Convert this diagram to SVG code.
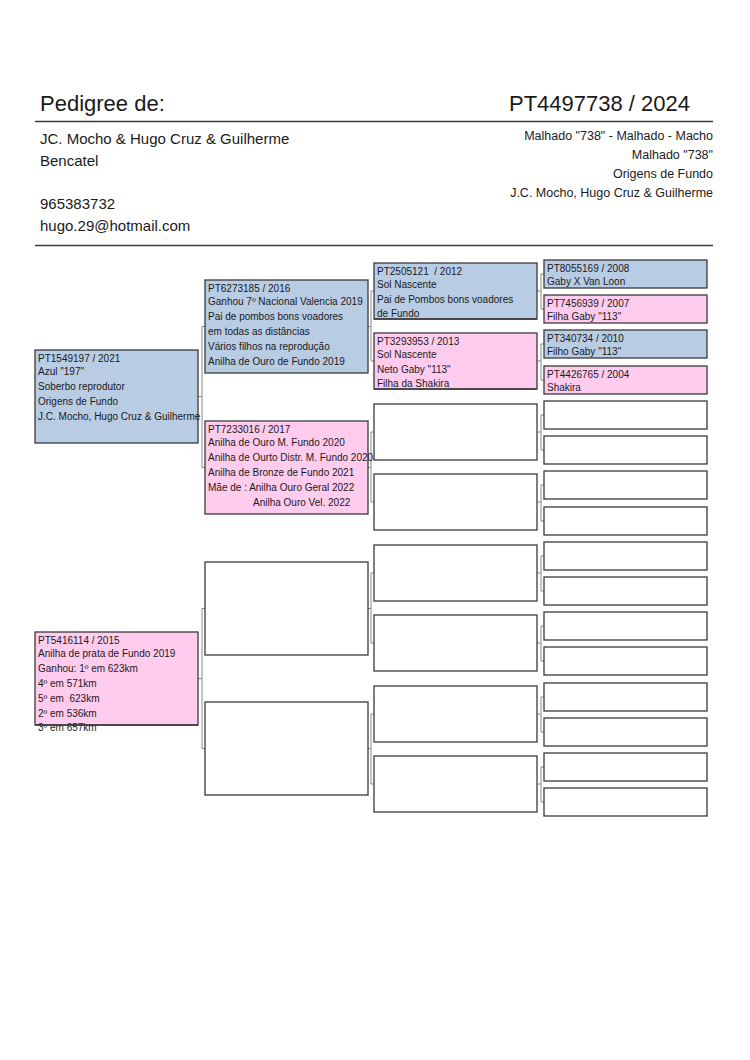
<svg xmlns="http://www.w3.org/2000/svg" width="750" height="1060" viewBox="0 0 750 1060">
<style>
text{font-family:"Liberation Sans",Arial,sans-serif;fill:#1a1a1a;white-space:pre}
.t{font-size:10px}
.h1{font-size:22px}
.h2{font-size:15px}
.h3{font-size:12.5px}
.b{stroke:#3a3a3a;stroke-width:1.3}
.m{fill:#b8cce4}
.f{fill:#ffccee}
.e{fill:#ffffff}
.sep{stroke:#3a3a3a;stroke-width:1.5}
.c{fill:none;stroke:#8a8a8a;stroke-width:1}
</style>
<rect width="750" height="1060" fill="#fff"/>
<g id="header">
<text class="h1" x="40" y="111">Pedigree de:</text>
<text class="h1" x="690" y="111" text-anchor="end">PT4497738 / 2024</text>
<line class="sep" x1="35" y1="121.5" x2="713" y2="121.5"/>
<text class="h2" x="40" y="144">JC. Mocho &amp; Hugo Cruz &amp; Guilherme</text>
<text class="h2" x="40" y="166">Bencatel</text>
<text class="h2" x="40" y="209">965383732</text>
<text class="h2" x="40" y="231">hugo.29@hotmail.com</text>
<text class="h3" x="713" y="140" text-anchor="end">Malhado "738" - Malhado - Macho</text>
<text class="h3" x="713" y="159" text-anchor="end">Malhado "738"</text>
<text class="h3" x="713" y="178" text-anchor="end">Origens de Fundo</text>
<text class="h3" x="713" y="197" text-anchor="end">J.C. Mocho, Hugo Cruz &amp; Guilherme</text>
<line class="sep" x1="35" y1="245.5" x2="713" y2="245.5"/>
</g>
<g id="connectors">
<path class="c" d="M198 396.5H202M202 326.5V467.5M202 326.5H205M202 467.5H205"/>
<path class="c" d="M198 678.5H202M202 608.5V748.5M202 608.5H205M202 748.5H205"/>
<path class="c" d="M368 326.5H371M371 291V361M371 291H374M371 361H374"/>
<path class="c" d="M368 467.5H371M371 432V502M371 432H374M371 502H374"/>
<path class="c" d="M368 608.5H371M371 573V643M371 573H374M371 643H374"/>
<path class="c" d="M368 748.5H371M371 714V784M371 714H374M371 784H374"/>
<path class="c" d="M537 291H541M541 274V309M541 274H544M541 309H544"/>
<path class="c" d="M537 361H541M541 344V380M541 344H544M541 380H544"/>
<path class="c" d="M537 432H541M541 415V450M541 415H544M541 450H544"/>
<path class="c" d="M537 502H541M541 485V521M541 485H544M541 521H544"/>
<path class="c" d="M537 573H541M541 556V591M541 556H544M541 591H544"/>
<path class="c" d="M537 643H541M541 626V661M541 626H544M541 661H544"/>
<path class="c" d="M537 714H541M541 697V732M541 697H544M541 732H544"/>
<path class="c" d="M537 784H541M541 767V802M541 767H544M541 802H544"/>
</g>
<g id="n1">
<rect class="b m" x="35" y="350" width="163" height="93"/>
<text class="t" x="38" y="362">PT1549197 / 2021</text>
<text class="t" x="38" y="375">Azul "197"</text>
<text class="t" x="38" y="390">Soberbo reprodutor</text>
<text class="t" x="38" y="405">Origens de Fundo</text>
<text class="t" x="38" y="420">J.C. Mocho, Hugo Cruz &amp; Guilherme</text>
</g>
<g id="n2">
<rect class="b f" x="35" y="632" width="163" height="93"/>
<text class="t" x="38" y="644">PT5416114 / 2015</text>
<text class="t" x="38" y="657">Anilha de prata de Fundo 2019</text>
<text class="t" x="38" y="672">Ganhou: 1º em 623km</text>
<text class="t" x="38" y="687">4º em 571km</text>
<text class="t" x="38" y="702">5º em  623km</text>
<text class="t" x="38" y="717">2º em 536km</text>
<text class="t" x="38" y="731">3º em 657km</text>
<line class="b" x1="35" y1="725" x2="198" y2="725"/>
</g>
<g id="n3">
<rect class="b m" x="205" y="280" width="163" height="93"/>
<text class="t" x="208" y="292">PT6273185 / 2016</text>
<text class="t" x="208" y="305">Ganhou 7º Nacional Valencia 2019</text>
<text class="t" x="208" y="320">Pai de pombos bons voadores</text>
<text class="t" x="208" y="335">em todas as distâncias</text>
<text class="t" x="208" y="350">Vários filhos na reprodução</text>
<text class="t" x="208" y="365">Anilha de Ouro de Fundo 2019</text>
</g>
<g id="n4">
<rect class="b f" x="205" y="421" width="163" height="93"/>
<text class="t" x="208" y="433">PT7233016 / 2017</text>
<text class="t" x="208" y="446">Anilha de Ouro M. Fundo 2020</text>
<text class="t" x="208" y="461">Anilha de Ourto Distr. M. Fundo 2020</text>
<text class="t" x="208" y="476">Anilha de Bronze de Fundo 2021</text>
<text class="t" x="208" y="491">Mãe de : Anilha Ouro Geral 2022</text>
<text class="t" x="253" y="506">Anilha Ouro Vel. 2022</text>
</g>
<g id="n5"><rect class="b e" x="205" y="562" width="163" height="93"/></g>
<g id="n6"><rect class="b e" x="205" y="702" width="163" height="93"/></g>
<g id="n7">
<rect class="b m" x="374" y="263" width="163" height="56"/>
<text class="t" x="377" y="275">PT2505121  / 2012</text>
<text class="t" x="377" y="288">Sol Nascente</text>
<text class="t" x="377" y="303">Pai de Pombos bons voadores</text>
<text class="t" x="377" y="317">de Fundo</text>
<line class="b" x1="374" y1="319" x2="537" y2="319"/>
</g>
<g id="n8">
<rect class="b f" x="374" y="333" width="163" height="56"/>
<text class="t" x="377" y="345">PT3293953 / 2013</text>
<text class="t" x="377" y="358">Sol Nascente</text>
<text class="t" x="377" y="373">Neto Gaby "113"</text>
<text class="t" x="377" y="387">Filha da Shakira</text>
<line class="b" x1="374" y1="389" x2="537" y2="389"/>
</g>
<g id="n9"><rect class="b e" x="374" y="404" width="163" height="56"/></g>
<g id="n10"><rect class="b e" x="374" y="474" width="163" height="56"/></g>
<g id="n11"><rect class="b e" x="374" y="545" width="163" height="56"/></g>
<g id="n12"><rect class="b e" x="374" y="615" width="163" height="56"/></g>
<g id="n13"><rect class="b e" x="374" y="686" width="163" height="56"/></g>
<g id="n14"><rect class="b e" x="374" y="756" width="163" height="56"/></g>
<g id="n15">
<rect class="b m" x="544" y="260" width="163" height="28"/>
<text class="t" x="547" y="272">PT8055169 / 2008</text>
<text class="t" x="547" y="285">Gaby X Van Loon</text>
</g>
<g id="n16">
<rect class="b f" x="544" y="295" width="163" height="28"/>
<text class="t" x="547" y="307">PT7456939 / 2007</text>
<text class="t" x="547" y="320">Filha Gaby "113"</text>
</g>
<g id="n17">
<rect class="b m" x="544" y="330" width="163" height="28"/>
<text class="t" x="547" y="342">PT340734 / 2010</text>
<text class="t" x="547" y="355">Filho Gaby "113"</text>
</g>
<g id="n18">
<rect class="b f" x="544" y="366" width="163" height="28"/>
<text class="t" x="547" y="378">PT4426765 / 2004</text>
<text class="t" x="547" y="391">Shakira</text>
</g>
<g id="n19"><rect class="b e" x="544" y="401" width="163" height="28"/></g>
<g id="n20"><rect class="b e" x="544" y="436" width="163" height="28"/></g>
<g id="n21"><rect class="b e" x="544" y="471" width="163" height="28"/></g>
<g id="n22"><rect class="b e" x="544" y="507" width="163" height="28"/></g>
<g id="n23"><rect class="b e" x="544" y="542" width="163" height="28"/></g>
<g id="n24"><rect class="b e" x="544" y="577" width="163" height="28"/></g>
<g id="n25"><rect class="b e" x="544" y="612" width="163" height="28"/></g>
<g id="n26"><rect class="b e" x="544" y="647" width="163" height="28"/></g>
<g id="n27"><rect class="b e" x="544" y="683" width="163" height="28"/></g>
<g id="n28"><rect class="b e" x="544" y="718" width="163" height="28"/></g>
<g id="n29"><rect class="b e" x="544" y="753" width="163" height="28"/></g>
<g id="n30"><rect class="b e" x="544" y="788" width="163" height="28"/></g>
</svg>
